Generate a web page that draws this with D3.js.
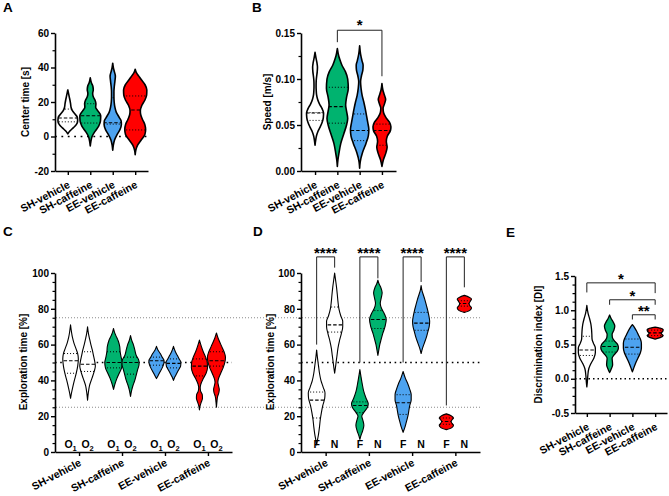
<!DOCTYPE html>
<html><head><meta charset="utf-8">
<script src="https://cdn.jsdelivr.net/npm/d3@7"></script>
<style>
body{margin:0;background:#fff}
text{font-family:"Liberation Sans",Arial,sans-serif;font-weight:bold;fill:#000}
</style>
</head><body><svg id="c" width="669" height="496"></svg>
<script>
// ---------------- DATA ----------------
const groups = ["SH-vehicle","SH-caffeine","EE-vehicle","EE-caffeine"];
const colors = ["#ffffff","#00b36f","#4da3f0","#ff0000"];

// Panel A: Center time [s]  (profiles: [value, relative density])
const aTicks = [-20,0,20,40,60];
const aMinor = [-10,10,30,50];
const aProfiles = [
 [[1.5,0],[3,0.15],[5,0.45],[7,0.72],[9,0.82],[11,0.8],[13,0.6],[15,0.38],[17,0.27],[19,0.23],[21,0.18],[23,0.12],[25,0.06],[27,0]],
 [[-5.5,0],[-3,0.05],[0,0.15],[3,0.4],[6,0.7],[9,0.85],[12,0.87],[15,0.62],[17,0.45],[19,0.47],[21,0.4],[23,0.25],[25,0.2],[27,0.25],[29,0.22],[31,0.1],[34,0]],
 [[-8,0],[-5,0.05],[-2,0.15],[1,0.35],[4,0.6],[7,0.72],[9,0.7],[11,0.55],[14,0.3],[17,0.18],[20,0.12],[23,0.1],[26,0.1],[29,0.13],[32,0.18],[35,0.22],[38,0.12],[40,0.05],[42.5,0]],
 [[-10.5,0],[-8,0.05],[-5,0.2],[-2,0.5],[1,0.8],[4,0.87],[7,0.8],[10,0.6],[13,0.45],[15,0.43],[18,0.55],[21,0.8],[24,0.95],[27,0.97],[30,0.82],[33,0.5],[35,0.3],[37,0.1],[39,0]]
];
const aQuart = [[8.5,10.7,15.9],[7.8,12,19],[7.2,8,22.5],[3.8,15.4,23.5]];

// Panel B: Speed [m/s]
const bTicks = [0,0.05,0.10,0.15];
const bMinor = [0.025,0.075,0.125];
const bProfiles = [
 [[0.028,0],[0.033,0.05],[0.038,0.12],[0.043,0.25],[0.048,0.45],[0.053,0.62],[0.058,0.72],[0.063,0.74],[0.068,0.6],[0.073,0.38],[0.078,0.22],[0.083,0.13],[0.088,0.1],[0.093,0.09],[0.098,0.1],[0.103,0.14],[0.108,0.19],[0.113,0.21],[0.118,0.16],[0.123,0.08],[0.129,0]],
 [[0.005,0],[0.012,0.05],[0.02,0.15],[0.03,0.3],[0.04,0.55],[0.05,0.8],[0.057,0.9],[0.065,0.8],[0.072,0.72],[0.08,0.8],[0.09,0.95],[0.1,0.9],[0.108,0.7],[0.115,0.4],[0.12,0.25],[0.125,0.12],[0.133,0]],
 [[0.003,0],[0.01,0.05],[0.02,0.25],[0.03,0.55],[0.038,0.75],[0.045,0.8],[0.053,0.7],[0.06,0.6],[0.068,0.48],[0.075,0.36],[0.082,0.22],[0.09,0.12],[0.097,0.08],[0.103,0.15],[0.11,0.28],[0.115,0.3],[0.12,0.2],[0.127,0.08],[0.136,0]],
 [[0.005,0],[0.012,0.12],[0.02,0.35],[0.026,0.45],[0.032,0.38],[0.038,0.47],[0.044,0.74],[0.048,0.78],[0.053,0.65],[0.058,0.35],[0.063,0.15],[0.068,0.1],[0.073,0.22],[0.078,0.32],[0.083,0.2],[0.088,0.08],[0.095,0]]
];
const bQuart = [[0.055,0.063,0.0635],[0.052,0.070,0.091],[0.033,0.044,0.062],[0.028,0.044,0.051]];
const bSig = [{from:1,to:3,y:0.153,yl:0.140,yr:0.103,label:"*"}];

// Panel C: Exploration time [%], objects O1 / O2
const cdTicks = [0,20,40,60,80,100];
const cdMinor = d3.range(5,100,5).filter(v=>v%20!==0);
const cSubs = ["O1","O2"];
const cProfiles = [
 [[[30,0],[33,0.1],[36,0.22],[40,0.4],[44,0.6],[48,0.75],[52,0.82],[55,0.75],[58,0.55],[61,0.35],[64,0.2],[67,0.1],[71,0]],
  [[29,0],[33,0.08],[37,0.2],[41,0.45],[45,0.7],[48,0.82],[51,0.74],[54,0.62],[57,0.5],[60,0.35],[63,0.22],[66,0.1],[70,0]]],
 [[[35,0],[38,0.15],[41,0.35],[44,0.6],[47,0.85],[50,0.92],[53,0.8],[56,0.7],[59,0.65],[62,0.5],[65,0.25],[67,0.1],[69,0]],
  [[31,0],[34,0.1],[37,0.25],[40,0.45],[43,0.6],[46,0.75],[49,0.9],[51,0.88],[54,0.6],[57,0.45],[60,0.3],[62,0.15],[65,0]]],
 [[[41,0],[43,0.2],[45,0.4],[47,0.6],[49,0.75],[51,0.8],[53,0.6],[55,0.4],[57,0.15],[59,0]],
  [[40,0],[42,0.15],[44,0.35],[46,0.55],[48,0.75],[50,0.78],[52,0.6],[54,0.4],[56,0.2],[59,0]]],
 [[[23.5,0],[26,0.08],[28,0.2],[30,0.32],[32,0.3],[34,0.12],[36,0.08],[38,0.15],[41,0.4],[44,0.7],[47,0.85],[50,0.82],[53,0.65],[56,0.4],[59,0.2],[62.5,0]],
  [[25,0],[28,0.05],[31,0.12],[33,0.25],[35,0.3],[37,0.22],[39,0.15],[41,0.22],[44,0.45],[47,0.7],[50,0.88],[53,0.95],[56,0.8],[59,0.55],[62,0.3],[64,0.15],[66.5,0]]]
];
const cQuart = [[[44,51,55],[45,49,56]],[[47,50,56],[43.5,50,53]],[[48.5,51,53],[47,49.5,52]],[[42.5,48,52],[48,51,56]]];

// Panel D: Exploration time [%], familiar (F) / novel (N)
const dSubs = ["F","N"];
const dProfiles = [
 [[[4,0],[7,0.1],[10,0.2],[14,0.3],[18,0.38],[22,0.5],[26,0.65],[30,0.85],[33,0.88],[36,0.7],[40,0.45],[44,0.3],[48,0.2],[52,0.1],[57,0]],
  [[44,0],[47,0.08],[50,0.15],[54,0.25],[58,0.35],[62,0.5],[66,0.7],[70,0.85],[73,0.85],[76,0.65],[80,0.45],[84,0.35],[88,0.28],[92,0.2],[96,0.1],[100,0]]],
 [[[7,0],[9,0.1],[12,0.3],[15,0.42],[18,0.3],[20,0.2],[22,0.4],[25,0.8],[27,0.88],[30,0.65],[34,0.4],[38,0.25],[42,0.12],[46,0]],
  [[54,0],[57,0.1],[60,0.2],[63,0.35],[66,0.5],[70,0.75],[74,0.88],[77,0.7],[80,0.4],[83,0.25],[86,0.35],[89,0.45],[92,0.3],[94,0.12],[96,0]]],
 [[[11,0],[14,0.2],[17,0.35],[20,0.5],[23,0.6],[26,0.7],[29,0.85],[32,0.85],[35,0.7],[38,0.5],[41,0.25],[45,0]],
  [[55,0],[58,0.15],[61,0.35],[64,0.55],[67,0.7],[70,0.85],[73,0.9],[76,0.82],[79,0.7],[82,0.55],[85,0.4],[88,0.22],[90,0.1],[93,0]]],
 [[[12.5,0],[13.5,0.55],[15,0.75],[16,0.6],[17,0.5],[18,0.6],[19,0.75],[20.3,0.5],[21.3,0]],
  [[78,0],[79,0.55],[80.5,0.75],[82,0.55],[83,0.5],[84,0.6],[85.5,0.75],[86.5,0.5],[87.5,0]]]
];
const dQuart = [[[19,29,33.5],[67,71,81]],[[22,26,28],[69,74,79]],[[21,27.5,32],[68,72,78]],[[15.5,17,19],[81.5,83,84.5]]];
const dSig = [{top:109,yl:60,yr:103,label:"****"},{top:109,yl:50,yr:97,label:"****"},{top:109,yl:50,yr:95,label:"****"},{top:109,yl:26,yr:92,label:"****"}];

// Panel E: Discrimination index [DI]
const eTicks = [-0.5,0,0.5,1.0,1.5];
const eMinor = d3.range(-0.375,1.5,0.125).filter(v=>Math.abs(v*2-Math.round(v*2))>1e-6);
const eProfiles = [
 [[-0.12,0],[-0.05,0.05],[0.05,0.1],[0.15,0.2],[0.22,0.4],[0.3,0.7],[0.38,0.85],[0.45,0.85],[0.52,0.65],[0.58,0.52],[0.65,0.5],[0.72,0.47],[0.8,0.4],[0.88,0.27],[0.95,0.13],[1.07,0]],
 [[0.09,0],[0.14,0.15],[0.2,0.3],[0.25,0.28],[0.3,0.25],[0.35,0.45],[0.4,0.75],[0.45,0.88],[0.5,0.8],[0.55,0.5],[0.6,0.28],[0.65,0.25],[0.7,0.4],[0.77,0.52],[0.83,0.35],[0.88,0.15],[0.93,0]],
 [[0.1,0],[0.15,0.12],[0.22,0.3],[0.3,0.55],[0.38,0.8],[0.45,0.9],[0.52,0.9],[0.58,0.8],[0.64,0.6],[0.7,0.4],[0.75,0.2],[0.79,0]],
 [[0.58,0],[0.6,0.5],[0.63,0.8],[0.65,0.65],[0.67,0.6],[0.69,0.75],[0.72,0.8],[0.74,0.45],[0.755,0]]
];
const eQuart = [[0.34,0.42,0.62],[0.39,0.47,0.55],[0.36,0.46,0.58],[0.63,0.67,0.71]];
const eSig = [{from:0,to:3,y:1.40,yl:1.26,yr:1.25,label:"*"},{from:1,to:3,y:1.153,yl:1.08,yr:1.08,label:"*"},{from:2,to:3,y:0.934,yl:0.865,yr:0.865,label:"**"}];

// ---------------- DRAW ----------------
const svg = d3.select("#c");
let clipN = 0;

function violin(g, prof, cx, y, w, fill, q, sw){
  const a = d3.area().curve(d3.curveMonotoneY)
    .y(d=>y(d[0])).x0(d=>cx-w(d[1])).x1(d=>cx+w(d[1]));
  const id = "vc"+(clipN++);
  g.append("clipPath").attr("id",id).append("path").attr("d",a(prof));
  g.append("path").attr("d",a(prof)).attr("fill",fill);
  const xw = w.range()[1]+3;
  q.forEach((v,i)=>{
    g.append("line").attr("x1",cx-xw).attr("x2",cx+xw).attr("y1",y(v)).attr("y2",y(v))
     .attr("clip-path",`url(#${id})`).attr("stroke","#000").attr("stroke-width",i===1?1.1:1)
     .attr("stroke-dasharray", i===1?"3.5,2":"1,2");
  });
  g.append("path").attr("d",a(prof)).attr("fill","none").attr("stroke","#000")
   .attr("stroke-width",sw).attr("stroke-linejoin","round");
}

function yAxis(g, y, x0, major, minor, fmt){
  const ax = g.append("g").attr("transform",`translate(${x0},0)`)
    .call(d3.axisLeft(y).tickValues(major).tickSize(4).tickPadding(2).tickSizeOuter(0).tickFormat(fmt));
  ax.selectAll("text").attr("font-size",10).attr("font-family",null).style("font-weight","bold");
  ax.select(".domain").attr("stroke-width",1.6);
  ax.selectAll(".tick line").attr("stroke-width",1.4);
  const mn = g.append("g").attr("transform",`translate(${x0},0)`)
    .call(d3.axisLeft(y).tickValues(minor).tickSize(2.5).tickFormat(""));
  mn.select(".domain").remove();
  mn.selectAll(".tick line").attr("stroke-width",1.2);
}
function xAxis(g, x, y0, labels, off){
  const ax = g.append("g").attr("transform",`translate(0,${y0})`)
    .call(d3.axisBottom(x).tickSize(4).tickSizeOuter(0).tickFormat(""));
  ax.select(".domain").attr("stroke-width",1.6);
  ax.selectAll(".tick line").attr("stroke-width",1.4);
  labels.forEach(l=>{
    g.append("text").attr("transform",`translate(${x(l)+3},${y0+off}) rotate(-28)`)
     .attr("text-anchor","end").attr("font-size",10.6).text(l);
  });
}
function yTitle(g, x, yc, t){
  g.append("text").attr("transform",`translate(${x},${yc}) rotate(-90)`)
   .attr("text-anchor","middle").attr("dominant-baseline","central").attr("font-size",10).text(t);
}
function letter(x, y, t){
  svg.append("text").attr("x",x).attr("y",y).attr("font-size",13.5).text(t);
}
function hline(g, x0, x1, yy, color, sw, dash){
  g.append("line").attr("x1",x0).attr("x2",x1).attr("y1",yy).attr("y2",yy)
   .attr("stroke",color).attr("stroke-width",sw).attr("stroke-dasharray",dash);
}
function bracket(g, xa, xb, yt, yl, yr, label, fs, ly){
  g.append("path").attr("d",`M${xa},${yl}V${yt}H${xb}V${yr}`).attr("fill","none")
   .attr("stroke","#222").attr("stroke-width",1);
  g.append("text").attr("x",(xa+xb)/2).attr("y",ly).attr("text-anchor","middle")
   .attr("font-size",fs).text(label);
}

function simplePanel(o){
  const g = svg.append("g");
  const x = d3.scalePoint().domain(groups).range([o.x0,o.x1]).padding(o.pad);
  const y = d3.scaleLinear().domain(o.domain).range([o.yb,o.yt]);
  const w = d3.scaleLinear().domain([0,1]).range([0,o.wmax]);
  if (o.zero) hline(g, o.x0, o.x1, y(0), "#000", 1.5, o.zeroDash);
  groups.forEach((gr,i)=>violin(g,o.profiles[i],x(gr),y,w,colors[i],o.quart[i],o.sw));
  yAxis(g,y,o.x0,o.major,o.minor,o.fmt);
  xAxis(g,x,o.yb,groups,16);
  yTitle(g,o.titleX,(o.yt+o.yb)/2,o.title);
  (o.sig||[]).forEach(s=>{
    bracket(g,x(groups[s.from]),x(groups[s.to]),y(s.y),y(s.yl),y(s.yr),s.label,15,y(s.y)-2+o.starDy);
  });
  return {x,y};
}

// A
simplePanel({x0:55,x1:148,pad:0.57,domain:[-20,60],yb:171,yt:33,wmax:12,sw:1.6,
  profiles:aProfiles,quart:aQuart,major:aTicks,minor:aMinor,fmt:d=>String(d),
  zero:true,zeroDash:"1.8,4.6",title:"Center time [s]",titleX:25,starDy:0});
letter(3,12,"A");
// B
simplePanel({x0:301,x1:396,pad:0.63,domain:[0,0.15],yb:171,yt:33,wmax:11.5,sw:1.6,
  profiles:bProfiles,quart:bQuart,major:bTicks,minor:bMinor,fmt:d=>d.toFixed(2),
  zero:false,title:"Speed [m/s]",titleX:267,sig:bSig,starDy:2});
letter(252,12,"B");
// E
simplePanel({x0:575,x1:667,pad:0.52,domain:[-0.5,1.5],yb:413,yt:276,wmax:10,sw:1.3,
  profiles:eProfiles,quart:eQuart,major:eTicks,minor:eMinor,fmt:d=>d.toFixed(1),
  zero:true,zeroDash:"1.5,3",title:"Discrimination index [DI]",titleX:538,sig:eSig,starDy:3});
letter(506,237,"E");

// C & D shared y scale
const yCD = d3.scaleLinear().domain([0,100]).range([452,273]);
const wCD = d3.scaleLinear().domain([0,1]).range([0,9.5]);
const gGrid = svg.append("g");
hline(gGrid,56,480,yCD(75),"#8a8a8a",1,"1,2");
hline(gGrid,56,480,yCD(25),"#8a8a8a",1,"1,2");

function pairPanel(o){
  const g = svg.append("g");
  const x = d3.scalePoint().domain(groups).range([o.x0,o.x1]).padding(o.pad);
  const sub = d3.scalePoint().domain(o.subs).range([-o.off,o.off]);
  hline(g,o.x0,o.x1,yCD(50),"#000",1.5,"1.6,3.6");
  (o.sig||[]).forEach((s,i)=>{
    const cx = x(groups[i]);
    bracket(g,cx+sub(o.subs[0]),cx+sub(o.subs[1]),yCD(s.top),yCD(s.yl),yCD(s.yr),s.label,15,yCD(s.top)+1);
  });
  groups.forEach((gr,i)=>{
    o.subs.forEach((s,j)=>{
      violin(g,o.profiles[i][j],x(gr)+sub(s),yCD,wCD,colors[i],o.quart[i][j],1.1);
      const t = g.append("text").attr("x",x(gr)+sub(s)).attr("y",448).attr("text-anchor","middle").attr("font-size",10.5);
      if (s.length>1){ t.text(s[0]); t.append("tspan").attr("font-size",7.5).attr("dy",2.5).text(s.slice(1)); }
      else t.text(s);
    });
  });
  yAxis(g,yCD,o.x0,cdTicks,cdMinor,d=>String(d));
  xAxis(g,x,452,groups,13);
  yTitle(g,o.titleX,362,"Exploration time [%]");
}
pairPanel({x0:55,x1:232,pad:0.56,subs:cSubs,off:8.5,profiles:cProfiles,quart:cQuart,titleX:23});
letter(3,236,"C");
pairPanel({x0:301,x1:480,pad:0.57,subs:dSubs,off:9,profiles:dProfiles,quart:dQuart,titleX:270,sig:dSig});
letter(253,236,"D");
</script>
</body></html>
